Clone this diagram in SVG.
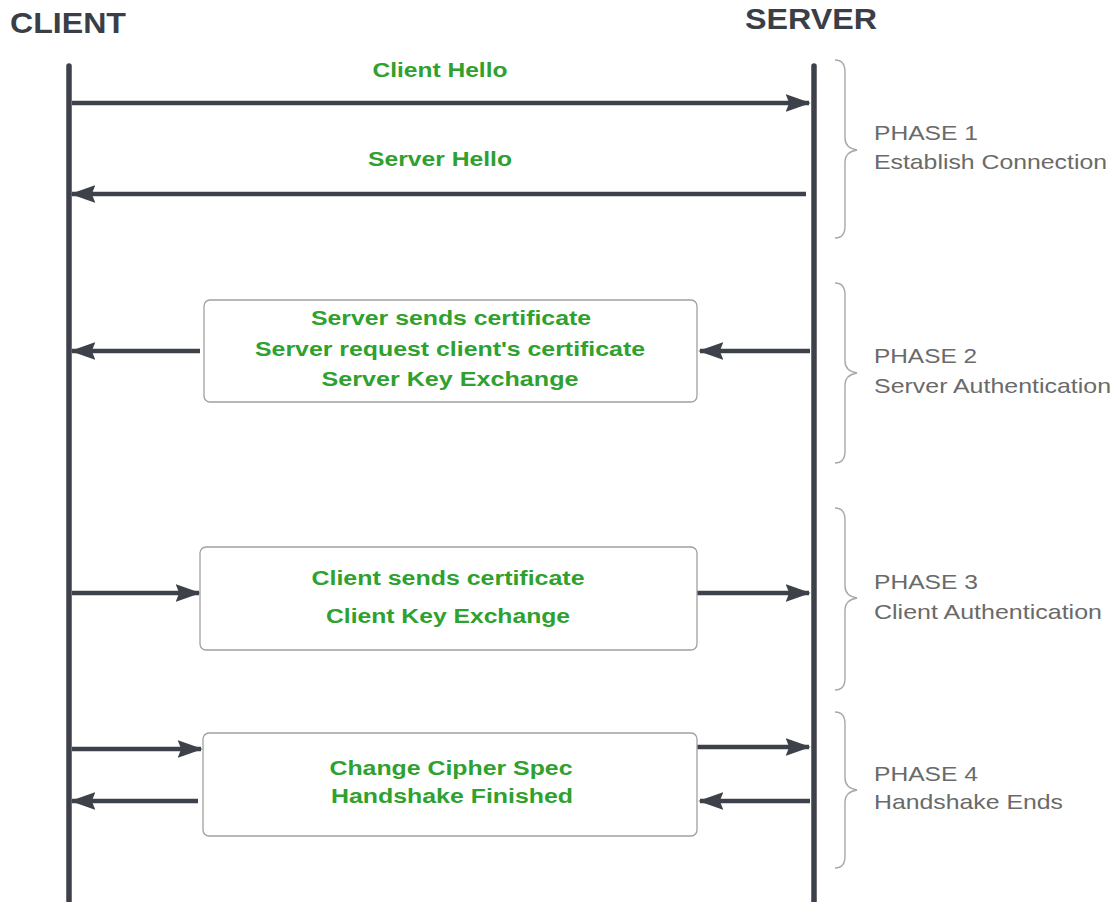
<svg xmlns="http://www.w3.org/2000/svg" width="1117" height="902" viewBox="0 0 1117 902">
<defs>
<marker id="ah" markerWidth="5.6" markerHeight="4" refX="5.2" refY="2" orient="auto" markerUnits="strokeWidth">
<path d="M0,0 L5.6,2 L0,4 L0.8,2 Z" fill="#3d4149"/>
</marker>
</defs>
<style>
.life{stroke:#3d4149;stroke-width:5.5;stroke-linecap:round;fill:none}
.msg{stroke:#3d4149;stroke-width:4.5;fill:none;marker-end:url(#ah)}
.box{fill:#fff;stroke:#a0a0a0;stroke-width:1.3}
.g{font-family:"Liberation Sans",Arial,sans-serif;font-weight:bold;font-size:20px;fill:#2ea12e;text-anchor:middle}
.t{font-family:"Liberation Sans",Arial,sans-serif;font-weight:bold;font-size:30px;fill:#3a3f47}
.p{font-family:"Liberation Sans",Arial,sans-serif;font-size:21px;fill:#6a6a6a}
.br{fill:none;stroke:#a8a8a8;stroke-width:1.4}
</style>
<rect width="1117" height="902" fill="#fff"/>
<g id="client">
<text class="t" x="10" y="33" textLength="116" lengthAdjust="spacingAndGlyphs">CLIENT</text>
<line class="life" x1="69" y1="66" x2="69" y2="905"/>
</g>
<g id="server">
<text class="t" x="745" y="29" textLength="132" lengthAdjust="spacingAndGlyphs">SERVER</text>
<line class="life" x1="814" y1="66" x2="814" y2="905"/>
</g>
<g id="connectors">
<line class="msg" x1="72" y1="103" x2="809" y2="103"/>
<line class="msg" x1="806" y1="194" x2="72" y2="194"/>
<line class="msg" x1="200" y1="351" x2="72" y2="351"/>
<line class="msg" x1="810" y1="351" x2="700" y2="351"/>
<line class="msg" x1="72" y1="593" x2="199" y2="593"/>
<line class="msg" x1="697" y1="593" x2="809" y2="593"/>
<line class="msg" x1="72" y1="749" x2="201" y2="749"/>
<line class="msg" x1="198" y1="801" x2="72" y2="801"/>
<line class="msg" x1="697" y1="747" x2="809" y2="747"/>
<line class="msg" x1="810" y1="801" x2="700" y2="801"/>
</g>
<g id="msg-client-hello"><text class="g" x="440" y="77" textLength="135" lengthAdjust="spacingAndGlyphs">Client Hello</text></g>
<g id="msg-server-hello"><text class="g" x="440" y="166" textLength="144" lengthAdjust="spacingAndGlyphs">Server Hello</text></g>
<g id="box-phase2">
<rect class="box" x="204" y="300" width="493" height="102" rx="6"/>
<text class="g" x="451" y="325" textLength="280" lengthAdjust="spacingAndGlyphs">Server sends certificate</text>
<text class="g" x="450" y="356" textLength="390" lengthAdjust="spacingAndGlyphs">Server request client's certificate</text>
<text class="g" x="450" y="386" textLength="257" lengthAdjust="spacingAndGlyphs">Server Key Exchange</text>
</g>
<g id="box-phase3">
<rect class="box" x="200" y="547" width="497" height="103" rx="6"/>
<text class="g" x="448" y="585" textLength="273" lengthAdjust="spacingAndGlyphs">Client sends certificate</text>
<text class="g" x="448" y="623" textLength="244" lengthAdjust="spacingAndGlyphs">Client Key Exchange</text>
</g>
<g id="box-phase4">
<rect class="box" x="203" y="733" width="494" height="103" rx="6"/>
<text class="g" x="451" y="775" textLength="243" lengthAdjust="spacingAndGlyphs">Change Cipher Spec</text>
<text class="g" x="452" y="803" textLength="242" lengthAdjust="spacingAndGlyphs">Handshake Finished</text>
</g>
<g id="phase1">
<path class="br" d="M835,60 Q845,60 845,72 L845,138 Q845,148 857,150 Q845,152 845,162 L845,226 Q845,238 835,238"/>
<text class="p" x="874" y="140" textLength="104" lengthAdjust="spacingAndGlyphs">PHASE 1</text>
<text class="p" x="874" y="169" textLength="233" lengthAdjust="spacingAndGlyphs">Establish Connection</text>
</g>
<g id="phase2">
<path class="br" d="M835,283 Q845,283 845,295 L845,361 Q845,371 857,373 Q845,375 845,385 L845,451 Q845,463 835,463"/>
<text class="p" x="874" y="363" textLength="103" lengthAdjust="spacingAndGlyphs">PHASE 2</text>
<text class="p" x="874" y="393" textLength="237" lengthAdjust="spacingAndGlyphs">Server Authentication</text>
</g>
<g id="phase3">
<path class="br" d="M835,508 Q845,508 845,520 L845,586 Q845,596 857,598 Q845,600 845,610 L845,678 Q845,690 835,690"/>
<text class="p" x="874" y="589" textLength="104" lengthAdjust="spacingAndGlyphs">PHASE 3</text>
<text class="p" x="874" y="619" textLength="228" lengthAdjust="spacingAndGlyphs">Client Authentication</text>
</g>
<g id="phase4">
<path class="br" d="M835,712 Q845,712 845,724 L845,778 Q845,788 857,790 Q845,792 845,802 L845,856 Q845,868 835,868"/>
<text class="p" x="874" y="781" textLength="104" lengthAdjust="spacingAndGlyphs">PHASE 4</text>
<text class="p" x="874" y="809" textLength="189" lengthAdjust="spacingAndGlyphs">Handshake Ends</text>
</g>
</svg>
